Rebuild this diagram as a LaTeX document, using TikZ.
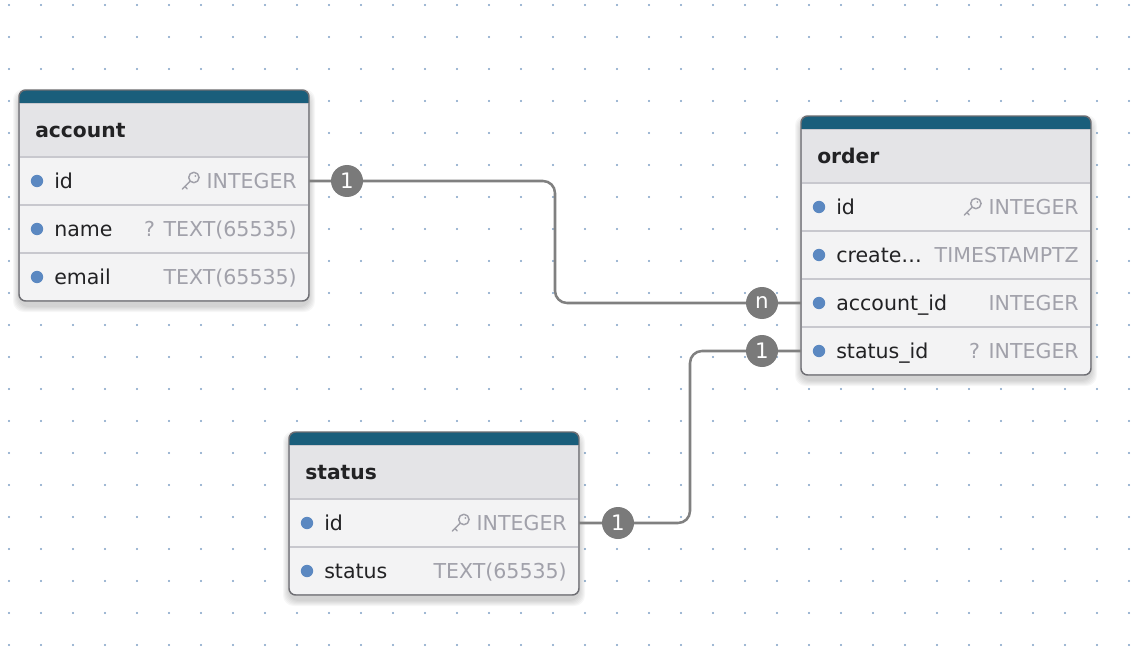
\documentclass[tikz,border=0pt]{standalone}
\usepackage{fontspec}
\setmainfont{DejaVu Sans}
\usepackage{tikz}
\usetikzlibrary{calc}

\definecolor{tblTeal}{RGB}{26,94,123}
\definecolor{headGray}{RGB}{228,228,231}
\definecolor{rowGray}{RGB}{243,243,244}
\definecolor{tblBorder}{RGB}{110,110,115}
\definecolor{sepGray}{RGB}{200,200,206}
\definecolor{bulletBlue}{RGB}{91,136,193}
\definecolor{typeGray}{RGB}{161,161,170}
\definecolor{nameBlack}{RGB}{34,34,36}
\definecolor{linkGray}{RGB}{128,128,128}
\definecolor{cardGray}{RGB}{122,122,122}
\definecolor{dotBlue}{RGB}{125,159,196}

\begin{document}
\begin{tikzpicture}[x=0.75pt,y=0.75pt,yscale=-1,xscale=1,
  griddot/.style={fill=dotBlue},
  shade/.style={fill=black,opacity=0.03},
  frame/.style={draw=tblBorder,line width=1.1pt,rounded corners=5pt},
  band/.style={fill=tblTeal},
  headbox/.style={fill=headGray,draw=sepGray,line width=0.8pt,minimum width=217.5pt,minimum height=40.5pt,inner sep=0pt,outer sep=0pt},
  rowbox/.style={fill=rowGray,draw=sepGray,line width=0.8pt,minimum width=217.5pt,minimum height=36pt,inner sep=0pt,outer sep=0pt},
  headtext/.style={anchor=west,inner sep=0pt,text height=11.2pt,text depth=0pt,text=nameBlack,font=\fontsize{15.2}{18}\selectfont\bfseries},
  fname/.style={anchor=west,inner sep=0pt,text height=11.2pt,text depth=0pt,text=nameBlack,font=\fontsize{15.4}{18}\selectfont},
  ftype/.style={anchor=east,inner sep=0pt,text height=11.2pt,text depth=0pt,text=typeGray,font=\fontsize{15.4}{18}\selectfont},
  bullet/.style={fill=bulletBlue},
  keyline/.style={draw=typeGray,line width=1.1pt,line cap=round,line join=round},
  keyicon/.pic={
    \draw[keyline] (3.5,3.5) circle (5.2);
    \fill[typeGray] (5,5) circle (1.1);
    \draw[keyline] (-0.2,-0.2) -- (-8,-8) (-5.5,-5.5) -- (-3.2,-7.8);
  },
  link/.style={draw=linkGray,line width=1.9pt,rounded corners=9pt},
  card/.style={circle,fill=cardGray,text=white,minimum size=24pt,inner sep=0pt,font=\fontsize{16}{18}\selectfont}
]
\useasboundingbox (0,0) rectangle (1139,656);

%Dot grid
\foreach \i in {0,...,35}
  \foreach \j in {0,...,20}
    \fill[griddot] (9+32*\i,5+32*\j) circle (1.1);

%Shape: Table [account]
\foreach \s in {1,...,6}
  \fill[shade,rounded corners=8pt] (19-\s,90-\s+5) rectangle (309+\s,301+\s+5);
\begin{scope}
\clip[rounded corners=5pt] (19,90) rectangle (309,301);
\fill[rowGray] (19,90) rectangle (309,301);
\node[headbox] (accHead) at (164,130) {};
\fill[band] (19,90) rectangle (309,103);
\node[rowbox] (accId) at (164,181) {};
\node[rowbox] (accName) at (164,229) {};
\node[rowbox] (accEmail) at (164,277) {};
\end{scope}
\draw[frame] (19,90) rectangle (309,301);

%Shape: Table [order]
\foreach \s in {1,...,6}
  \fill[shade,rounded corners=8pt] (801-\s,116-\s+5) rectangle (1091+\s,375+\s+5);
\begin{scope}
\clip[rounded corners=5pt] (801,116) rectangle (1091,375);
\fill[rowGray] (801,116) rectangle (1091,375);
\node[headbox] (ordHead) at (946,156) {};
\fill[band] (801,116) rectangle (1091,129);
\node[rowbox] (ordId) at (946,207) {};
\node[rowbox] (ordCreated) at (946,255) {};
\node[rowbox] (ordAcc) at (946,303) {};
\node[rowbox] (ordStat) at (946,351) {};
\end{scope}
\draw[frame] (801,116) rectangle (1091,375);

%Shape: Table [status]
\foreach \s in {1,...,6}
  \fill[shade,rounded corners=8pt] (289-\s,432-\s+5) rectangle (579+\s,595+\s+5);
\begin{scope}
\clip[rounded corners=5pt] (289,432) rectangle (579,595);
\fill[rowGray] (289,432) rectangle (579,595);
\node[headbox] (statHead) at (434,472) {};
\fill[band] (289,432) rectangle (579,445);
\node[rowbox] (statId) at (434,523) {};
\node[rowbox] (statStatus) at (434,571) {};
\end{scope}
\draw[frame] (289,432) rectangle (579,595);

% Text Node
\node[headtext] (accTitle) at ($(accHead.west)+(16,0)$) {account};
\node[headtext] (ordTitle) at ($(ordHead.west)+(16,0)$) {order};
\node[headtext] (statTitle) at ($(statHead.west)+(16,0)$) {status};

% Fields
\foreach \r/\n/\t in {accId/id/INTEGER,accName/name/? TEXT(65535),accEmail/email/TEXT(65535),
    ordId/id/INTEGER,ordCreated/create…/TIMESTAMPTZ,ordAcc/account\_id/INTEGER,ordStat/status\_id/? INTEGER,
    statId/id/INTEGER,statStatus/status/TEXT(65535)}{
  \fill[bullet] ($(\r.west)+(18,0)$) circle (6.2);
  \node[fname] (\r Name) at ($(\r.west)+(35,0)$) {\n};
  \node[ftype] (\r Type) at ($(\r.east)+(-12,0)$) {\t};
}

% Key icons
\pic at ($(accIdType.west)+(-16,0)$) {keyicon};
\pic at ($(ordIdType.west)+(-16,0)$) {keyicon};
\pic at ($(statIdType.west)+(-16,0)$) {keyicon};

%Connectors
\draw[link] (accId.east) -| ($(accId.east)!.5!(ordAcc.west)$) |- (ordAcc.west);
\draw[link] (statId.east) -| ($(statId.east)!.5!(ordStat.west)$) |- (ordStat.west);

% Cardinality
\node[card] (accIdCard) at ($(accId.east)+(38,0)$) {1};
\node[card] (ordAccCard) at ($(ordAcc.west)+(-39,0)$) {n};
\node[card] (ordStatCard) at ($(ordStat.west)+(-39,0)$) {1};
\node[card] (statIdCard) at ($(statId.east)+(39,0)$) {1};

\end{tikzpicture}
\end{document}
